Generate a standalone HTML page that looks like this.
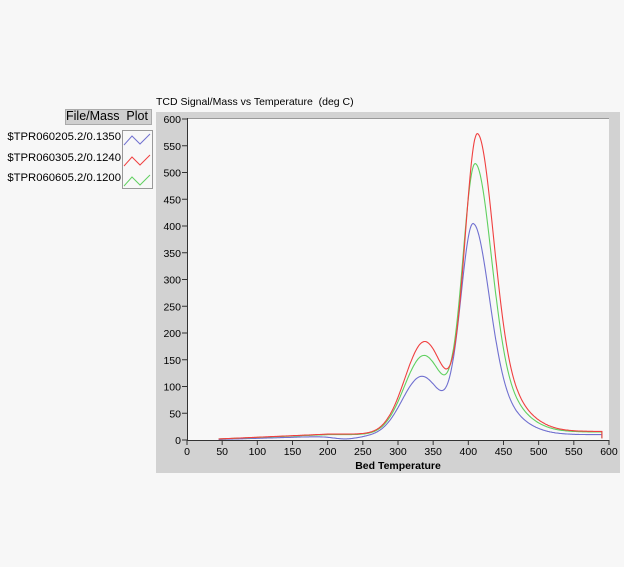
<!DOCTYPE html><html><head><style>
body{margin:0;width:624px;height:567px;background:#f7f7f7;position:relative;font-family:"Liberation Sans",sans-serif;overflow:hidden}
.t{position:absolute;font-size:11px;color:#000;white-space:nowrap}
</style></head><body>
<div class="t" style="left:156px;top:96px;font-size:10.5px">TCD Signal/Mass vs Temperature&nbsp; (deg C)</div>
<div style="position:absolute;left:65px;top:109px;width:87px;height:16px;background:#cfcfcf;border:1px solid #aaa;box-sizing:border-box"></div>
<div class="t" style="left:66px;top:109px;font-size:12.5px">File/Mass&nbsp; Plot</div>
<div class="t" style="right:503px;top:131px;font-size:11.3px">$TPR060205.2/0.1350</div>
<div class="t" style="right:503px;top:152px;font-size:11.3px">$TPR060305.2/0.1240</div>
<div class="t" style="right:503px;top:172px;font-size:11.3px">$TPR060605.2/0.1200</div>
<svg width="624" height="567" style="position:absolute;left:0;top:0" id="s">
<rect x="122.5" y="130.5" width="30" height="58" fill="#f8f8f8" stroke="#999"/>
<polyline points="124,145 132,136 140,144 150,134" fill="none" stroke="#7070d0"/>
<polyline points="124,166 132,157 140,165 150,155" fill="none" stroke="#f04040"/>
<polyline points="124,186 132,177 140,185 150,175" fill="none" stroke="#60d060"/>
<rect x="156" y="112" width="464" height="361" fill="#d2d2d2"/>
<rect x="187" y="118" width="422" height="322" fill="#f8f8f8"/>
<line x1="187" y1="118.5" x2="609" y2="118.5" stroke="#999"/>
<line x1="187.5" y1="118" x2="187.5" y2="440" stroke="#333"/>
<line x1="187" y1="440.5" x2="609" y2="440.5" stroke="#333"/>
<g id="ax" font-family="Liberation Sans" font-size="10.5"></g>
<g id="cv" fill="none" stroke-width="1.1"></g>
<text x="398" y="469" font-size="10.5" font-weight="bold" text-anchor="middle" font-family="Liberation Sans">Bed Temperature</text>
</svg>
<script>
var ax=document.getElementById('ax'),cv=document.getElementById('cv'),h='';
function X(t){return 187+t*0.7033}function Y(v){return 440-v*0.535}
for(var v=0;v<=600;v+=50){var y=Y(v);h+='<line x1="182" x2="187" y1="'+y+'" y2="'+y+'" stroke="#333"/><text x="181" y="'+(y+4)+'" text-anchor="end">'+v+'</text>';}
for(var t=0;t<=600;t+=50){var x=X(t);h+='<line x1="'+x+'" x2="'+x+'" y1="440" y2="445" stroke="#333"/><text x="'+x+'" y="455" text-anchor="middle">'+t+'</text>';}
ax.innerHTML=h;
function g(t,c,s){return Math.exp(-0.5*Math.pow((t-c)/s,2));}
function mk(col,P){var pts=[];for(var t=45;t<=590;t+=1){
var b=P.b0+(P.b1-P.b0)*Math.min(1,(t-45)/155);
if(P.dip)b-=P.dip*g(t,225,18);
b+=(P.bt-P.b1)/(1+Math.exp(-(t-420)/15));
var m=t<P.c?g(t,P.c,18):0.75*g(t,P.c,22)+0.25*g(t,P.c,45);
var v=b+P.A*m+P.S*g(t,P.sc,28);pts.push(X(t).toFixed(1)+','+Y(v).toFixed(1));}
pts.push(X(590)+','+Y(3));
cv.innerHTML+='<polyline stroke="'+col+'" points="'+pts.join(' ')+'"/>';}
mk('#7070d0',{b0:1,b1:7,bt:10,dip:5,c:407,A:393,S:112,sc:334});
mk('#60d060',{b0:2,b1:10,bt:15,c:410,A:500,S:148,sc:337});
mk('#f04040',{b0:2,b1:11,bt:16,c:413,A:555,S:173,sc:338});
</script>
</body></html>
